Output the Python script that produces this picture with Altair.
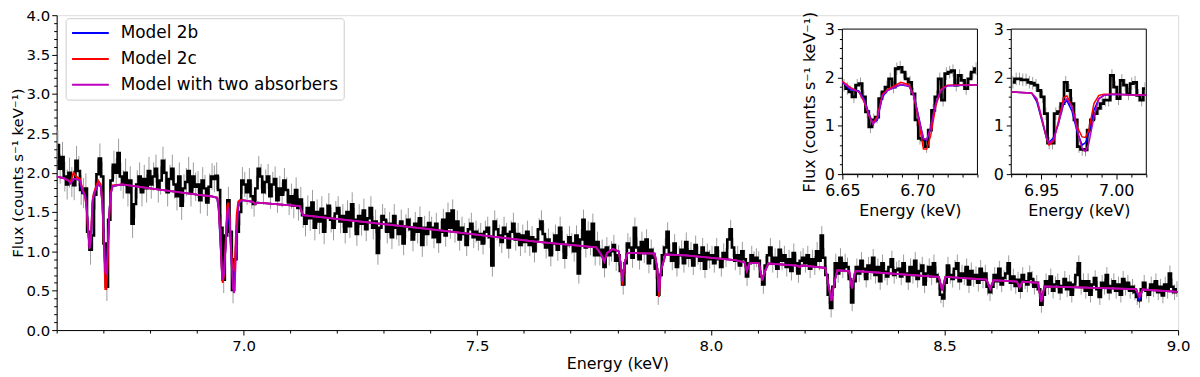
import altair as alt
import pandas as pd

FONT = "DejaVu Sans"

# ---------------- main spectrum: 0.005 keV bins starting at 6.6 keV ----------------
E_START = 6.6
E_BIN = 0.005
FLUX_A = [  # 6.6 - 7.0 keV
    2.35, 2.05, 2.20, 1.95, 1.85, 2.00, 1.88, 1.84, 2.15, 2.02, 1.78, 1.74, 1.80, 1.25, 1.02, 1.20, 1.72, 1.98, 2.18, 1.95,
    1.10, 0.55, 1.40, 1.90, 2.10, 2.00, 2.25, 1.95, 1.85, 2.00, 1.75, 1.90, 1.35, 1.60, 1.85, 1.95, 1.75, 1.92, 1.80, 2.02,
    1.85, 1.95, 2.05, 1.80, 1.90, 2.15, 2.00, 1.75, 1.92, 2.05, 1.85, 1.70, 1.95, 1.58, 1.80, 1.88, 2.02, 1.75, 1.95, 1.82,
    1.85, 1.65, 1.90, 1.80, 1.62, 1.82, 1.95, 1.92, 1.96, 1.78, 1.30, 0.64, 1.20, 1.65, 1.25, 0.51, 0.90, 1.25, 1.50, 1.90,
]
FLUX_B = [  # 7.0 - 7.4 keV
    1.85, 1.75, 1.90, 1.70, 1.60, 1.80, 2.05, 1.95, 1.75, 1.88, 1.95, 1.70, 1.85, 1.92, 1.65, 1.80, 1.72, 1.90, 1.78, 1.62,
    1.70, 1.58, 1.78, 1.55, 1.66, 1.46, 1.35, 1.55, 1.42, 1.62, 1.30, 1.50, 1.38, 1.54, 1.25, 1.45, 1.58, 1.40, 1.30, 1.48,
    1.55, 1.38, 1.45, 1.25, 1.50, 1.32, 1.60, 1.40, 1.22, 1.45, 1.35, 1.52, 1.28, 1.42, 1.55, 1.30, 1.38, 0.98, 1.30, 1.45,
    1.40, 1.25, 1.35, 1.18, 1.45, 1.30, 1.22, 1.38, 1.10, 1.32, 1.40, 1.28, 1.15, 1.35, 1.25, 1.42, 1.08, 1.30, 1.22, 1.36,
]
FLUX_C = [  # 7.4 - 7.8 keV
    1.30, 1.18, 1.35, 1.12, 1.25, 1.40, 1.20, 1.48, 1.30, 1.52, 1.25, 1.38, 1.15, 1.30, 1.22, 1.08, 1.28, 1.35, 1.18, 1.25,
    1.15, 1.22, 1.10, 1.25, 1.30, 1.18, 0.82, 1.38, 1.28, 1.20, 1.12, 1.30, 1.22, 1.05, 1.25, 1.35, 1.15, 1.22, 1.08, 1.20,
    1.12, 1.25, 1.08, 1.18, 1.00, 1.15, 1.28, 1.38, 1.22, 1.05, 1.15, 0.95, 1.10, 1.20, 1.02, 1.30, 1.12, 0.92, 1.08, 1.18,
    1.10, 1.00, 1.20, 0.72, 1.15, 1.40, 1.05, 1.25, 1.08, 1.35, 0.95, 1.12, 0.95, 1.02, 0.80, 1.05, 0.95, 1.00, 1.08, 0.88,
]
FLUX_D = [  # 7.8 - 8.2 keV
    0.95, 0.75, 0.58, 0.85, 1.10, 1.05, 0.92, 1.30, 1.05, 0.90, 1.12, 0.98, 1.15, 0.85, 1.02, 0.92, 0.78, 0.45, 0.70, 0.95,
    1.05, 1.25, 0.98, 0.88, 1.10, 0.80, 0.95, 1.02, 0.85, 1.12, 0.92, 1.00, 0.82, 1.08, 0.95, 0.88, 1.05, 0.78, 0.98, 0.90,
    0.95, 0.85, 1.05, 0.90, 0.80, 0.98, 0.92, 1.15, 1.28, 1.05, 0.88, 0.95, 0.82, 1.00, 0.90, 0.68, 0.85, 0.95, 0.88, 0.92,
    0.88, 0.68, 0.58, 0.82, 0.95, 1.05, 0.85, 0.92, 0.78, 1.02, 0.88, 0.95, 0.80, 0.90, 0.75, 0.98, 0.85, 0.72, 0.88, 0.92,
]
FLUX_E = [  # 8.2 - 8.6 keV
    0.85, 0.95, 0.78, 0.90, 0.82, 1.00, 0.88, 1.20, 0.92, 0.70, 0.45, 0.28, 0.55, 0.85, 0.72, 0.92, 0.78, 0.85, 0.80, 0.65,
    0.35, 0.62, 0.80, 0.72, 0.88, 0.78, 0.65, 0.82, 0.75, 0.92, 0.70, 0.80, 0.62, 0.85, 0.74, 0.68, 0.80, 0.90, 0.70, 0.76,
    0.78, 0.68, 0.85, 0.72, 0.62, 0.80, 0.70, 0.88, 0.65, 0.75, 0.82, 0.58, 0.72, 0.80, 0.68, 0.85, 0.70, 0.62, 0.45, 0.40,
    0.60, 0.82, 0.70, 0.65, 0.78, 0.85, 0.62, 0.72, 0.68, 0.80, 0.58, 0.75, 0.66, 0.70, 0.60, 0.78, 0.64, 0.72, 0.55, 0.48,
]
FLUX_F = [  # 8.6 - 9.0 keV
    0.55, 0.70, 0.62, 0.78, 0.58, 0.66, 0.72, 0.85, 0.60, 0.68, 0.56, 0.64, 0.50, 0.70, 0.62, 0.58, 0.72, 0.65, 0.55, 0.60,
    0.52, 0.32, 0.45, 0.62, 0.55, 0.68, 0.50, 0.58, 0.62, 0.48, 0.56, 0.65, 0.52, 0.60, 0.45, 0.58, 0.70, 0.85, 0.55, 0.62,
    0.50, 0.62, 0.45, 0.58, 0.66, 0.52, 0.42, 0.60, 0.55, 0.70, 0.48, 0.56, 0.62, 0.50, 0.58, 0.45, 0.65, 0.54, 0.60, 0.50,
    0.55, 0.48, 0.42, 0.38, 0.52, 0.60, 0.50, 0.45, 0.58, 0.52, 0.62, 0.48, 0.55, 0.44, 0.58, 0.50, 0.72, 0.55, 0.48, 0.52,
]
# 1-sigma error per 0.1 keV stretch (20 bins each)
ERR_PER_100EV = [0.19, 0.18, 0.18, 0.17, 0.16, 0.16, 0.15, 0.15, 0.14, 0.14, 0.14, 0.13,
                 0.13, 0.12, 0.12, 0.12, 0.12, 0.11, 0.11, 0.11, 0.10, 0.10, 0.10, 0.10]

# ---------------- inset spectra (finer bins) ----------------
IN1_DOMAIN = [6.65, 6.74]
IN2_DOMAIN = [6.93, 7.02]
IN_YDOMAIN = [0, 3]
IN_BIN = 0.0022
IN1_FLUX = [1.84, 1.77, 1.70, 1.60, 1.84, 1.87, 1.60, 1.29, 0.98, 1.12, 1.18, 1.56, 1.70, 1.80,
            1.97, 1.80, 2.18, 2.21, 2.11, 1.97, 1.90, 1.66, 1.12, 0.74, 0.71, 0.57, 0.91, 1.32,
            1.60, 1.97, 1.53, 2.08, 2.11, 2.14, 1.84, 2.04, 1.94, 1.77, 1.97, 2.11, 2.18]
IN2_FLUX = [1.90, 1.97, 1.97, 1.95, 1.95, 1.90, 1.88, 1.84, 1.73, 1.60, 1.25, 0.64, 0.64, 1.25,
            1.29, 1.46, 1.90, 1.73, 1.46, 1.12, 0.57, 0.51, 0.50, 0.91, 1.12, 1.25, 1.36, 1.46,
            1.53, 1.53, 2.04, 1.80, 1.56, 1.94, 1.84, 1.66, 1.87, 1.90, 1.63, 1.53, 1.77]
IN_ERR = 0.13

# ---------------- models ----------------
MODEL_NAMES = ["Model 2b", "Model 2c", "Model with two absorbers"]
MODEL_COLORS = ["#0000ff", "#ff0000", "#bf00bf"]
MODEL_E = [6.600, 6.615, 6.625, 6.630, 6.636, 6.642, 6.650, 6.655, 6.661, 6.6644, 6.6678, 6.6704, 6.6733,
           6.6767, 6.680, 6.6889, 6.6944, 6.6978, 6.7011, 6.704, 6.7062, 6.7089, 6.7122, 6.7156, 6.720,
           6.740, 6.800, 6.900,
           6.930, 6.9436, 6.947, 6.9503, 6.9537, 6.9552, 6.9582, 6.9615, 6.9649, 6.9671, 6.9705, 6.9739,
           6.9772, 6.9795, 6.9817, 6.9851, 6.9884, 6.9918, 6.9974,
           7.020, 7.025, 7.030, 7.120, 7.127, 7.430, 7.630,
           7.755, 7.766, 7.772, 7.778, 7.790, 7.803, 7.807, 7.811, 7.815, 7.822, 7.880, 7.885, 7.889, 7.893, 7.903,
           7.946, 8.052, 8.072, 8.077, 8.083, 8.103, 8.107, 8.110, 8.114, 8.123,
           8.185, 8.190, 8.195, 8.245, 8.251, 8.258, 8.264, 8.271, 8.296, 8.302, 8.308, 8.311,
           8.477, 8.488, 8.495, 8.502, 8.590, 8.598, 8.605, 8.655, 8.661, 8.667, 8.700, 8.707, 8.714,
           8.750, 8.910, 8.917, 8.924, 9.000]
MODEL_TWO = [1.95, 1.93, 1.90, 1.86, 1.92, 1.92, 1.90, 1.78, 1.70, 1.53, 1.22, 1.03, 1.15,
             1.63, 1.73, 1.86, 1.82, 1.60, 1.12, 0.74, 0.71, 0.98, 1.46, 1.73, 1.83,
             1.85, 1.80, 1.72,
             1.70, 1.68, 1.56, 1.18, 0.74, 0.64, 0.71, 1.05, 1.49, 1.56, 1.39, 0.91,
             0.53, 0.47, 0.64, 1.18, 1.56, 1.63, 1.65,
             1.63, 1.60, 1.62, 1.575, 1.46, 1.26, 1.12,
             1.05, 0.95, 0.87, 0.98, 1.03, 1.00, 0.85, 0.62, 0.85, 0.98, 0.97, 0.80, 0.48, 0.75, 0.96,
             0.95, 0.89, 0.86, 0.75, 0.85, 0.85, 0.72, 0.63, 0.72, 0.845,
             0.82, 0.80, 0.82, 0.79, 0.60, 0.37, 0.60, 0.76, 0.75, 0.53, 0.72, 0.75,
             0.68, 0.675, 0.505, 0.675, 0.64, 0.525, 0.635, 0.615, 0.54, 0.615, 0.60, 0.36, 0.555,
             0.55, 0.52, 0.42, 0.515, 0.484]
MODEL_2B_DIFF = {6.630: 1.87, 6.655: 1.75, 6.661: 1.72, 6.6644: 1.55, 6.6678: 1.25, 6.6704: 1.05,
                 6.6733: 1.12, 6.6767: 1.60, 6.6889: 1.85, 6.6978: 1.62, 6.7011: 1.15, 6.704: 0.72,
                 6.7062: 0.70, 6.7089: 0.95, 6.7122: 1.45, 6.947: 1.50, 6.9503: 1.12, 6.9537: 0.72,
                 6.9552: 0.66, 6.9582: 0.75, 6.9649: 1.45, 6.9671: 1.52, 6.9705: 1.30, 6.9739: 0.88,
                 6.9772: 0.60, 6.9795: 0.65, 6.9817: 0.84, 6.9851: 1.32, 8.917: 0.38}
MODEL_2C_DIFF = {6.630: 1.88, 6.636: 2.00, 6.642: 1.95, 6.650: 1.92, 6.655: 1.80, 6.6644: 1.50,
                 6.6678: 1.20, 6.6704: 1.05, 6.6733: 1.20, 6.6767: 1.65, 6.680: 1.75, 6.6889: 1.90,
                 6.6944: 1.85, 6.7011: 1.05, 6.704: 0.52, 6.7062: 0.52, 6.7089: 0.80, 6.7122: 1.40,
                 6.7156: 1.75, 6.720: 1.84, 6.947: 1.55, 6.9503: 1.15, 6.9537: 0.72, 6.9552: 0.60,
                 6.9582: 0.68, 6.9615: 1.10, 6.9649: 1.58, 6.9671: 1.62, 6.9705: 1.40, 6.9739: 0.98,
                 6.9772: 0.77, 6.9795: 0.76, 6.9817: 0.91, 6.9851: 1.46, 6.9884: 1.63, 6.9918: 1.65,
                 7.811: 0.57, 7.889: 0.42}

# ---------------- ticks ----------------
MAIN_X_TICKS = [round(6.6 + 0.1 * i, 2) for i in range(25)]
MAIN_Y_TICKS = [round(0.1 * i, 2) for i in range(41)]
IN1_X_TICKS = [round(6.65 + 0.01 * i, 3) for i in range(10)]
IN2_X_TICKS = [round(6.93 + 0.01 * i, 3) for i in range(10)]
IN_Y_TICKS = [round(0.2 * i, 2) for i in range(16)]

# ---------------- layout ----------------
W, H = 1129, 317
IN1_PX = [791, 927]
IN2_PX = [961, 1097]
IN_PY = [160, 14]

# ---------------- tables ----------------
flux = FLUX_A + FLUX_B + FLUX_C + FLUX_D + FLUX_E + FLUX_F
energies = [round(E_START + (i + 0.5) * E_BIN, 5) for i in range(len(flux))]
errs = [ERR_PER_100EV[min(i // 20, len(ERR_PER_100EV) - 1)] for i in range(len(flux))]
df_main = pd.DataFrame({"E": energies, "F": flux})
df_main["lo"] = df_main["F"] - errs
df_main["hi"] = df_main["F"] + errs


def inset_df(start, vals):
    e = [round(start + (i + 0.5) * IN_BIN, 5) for i in range(len(vals))]
    d = pd.DataFrame({"E": e, "F": vals})
    d["lo"] = d["F"] - IN_ERR
    d["hi"] = d["F"] + IN_ERR
    return d


df_in1 = inset_df(IN1_DOMAIN[0], IN1_FLUX)
df_in2 = inset_df(IN2_DOMAIN[0], IN2_FLUX)

rows = []
for name, diff in zip(MODEL_NAMES, [MODEL_2B_DIFF, MODEL_2C_DIFF, None]):
    for e, v in zip(MODEL_E, MODEL_TWO):
        val = diff.get(e, v) if diff else v
        rows.append({"model": name, "E": e, "F": val})
df_mod = pd.DataFrame(rows)

# ---------------- axes ----------------
T_HALF = "abs(datum.value*2 - round(datum.value*2)) < 0.001"
T_20 = "abs(datum.value*20 - round(datum.value*20)) < 0.001"
T_INT = "abs(datum.value - round(datum.value)) < 0.001"


def make_axis(orient, values, test, fmt, title, lsize, tsize, offset=None, lpad=4, tpad=4):
    kw = dict(
        orient=orient, values=values, title=title,
        labelExpr=f"({test}) ? format(datum.value, '{fmt}') : ''",
        tickSize={"condition": {"test": test, "value": 5}, "value": 3},
        labelFontSize=lsize, titleFontSize=tsize, labelPadding=lpad, titlePadding=tpad,
        grid=False, labelFlush=False, labelOverlap=False,
        domainColor="black", tickColor="black", labelColor="black", titleColor="black",
        labelFont=FONT, titleFont=FONT, titleFontWeight="normal", tickWidth=1, domainWidth=1,
    )
    if offset is not None:
        kw["offset"] = offset
    return alt.Axis(**kw)


YTITLE = "Flux (counts s\u207b\u00b9 keV\u207b\u00b9)"
ax_mx = make_axis("bottom", MAIN_X_TICKS, T_HALF, ".1f", "Energy (keV)", 15, 16, lpad=4, tpad=2)
ax_my = make_axis("left", MAIN_Y_TICKS, T_HALF, ".1f", YTITLE, 15, 15, lpad=2, tpad=1)
ax_i1x = make_axis("bottom", IN1_X_TICKS, T_20, ".2f", "Energy (keV)", 16, 16, offset=-(H - IN_PY[0]))
ax_i1y = make_axis("left", IN_Y_TICKS, T_INT, ".0f", YTITLE, 16, 16, offset=-IN1_PX[0], lpad=3, tpad=7)
ax_i2x = make_axis("bottom", IN2_X_TICKS, T_20, ".2f", "Energy (keV)", 16, 16, offset=-(H - IN_PY[0]))
ax_i2y = make_axis("left", IN_Y_TICKS, T_INT, ".0f", None, 16, 16, offset=-IN2_PX[0], lpad=3)

cscale = alt.Scale(domain=MODEL_NAMES, range=MODEL_COLORS)
leg = alt.Legend(orient="none", legendX=9, legendY=3, symbolType="stroke", symbolSize=1369,
                 symbolStrokeWidth=2, clipHeight=19, rowPadding=7, labelFontSize=17, labelFont=FONT,
                 labelColor="black", labelOffset=11, labelLimit=500, padding=5.5, strokeColor="#cccccc",
                 cornerRadius=3, fillColor="white")


def panel(df_data, xs, ys, axx, axy, dmodel, data_w, model_w, frame=None):
    layers = []
    if frame is not None:
        layers.append(alt.Chart(frame).mark_rect(fill="white", stroke="black", strokeWidth=1).encode(
            x=alt.X("x0:Q", scale=xs, axis=axx), x2="x1:Q",
            y=alt.Y("y0:Q", scale=ys, axis=axy), y2="y1:Q"))
    layers.append(alt.Chart(df_data).mark_rule(color="#9c9c9c", strokeWidth=1, clip=True).encode(
        x=alt.X("E:Q", scale=xs, axis=axx),
        y=alt.Y("lo:Q", scale=ys, axis=axy), y2="hi:Q"))
    layers.append(alt.Chart(df_data).mark_line(interpolate="step", color="black",
                                               strokeWidth=data_w, clip=True).encode(
        x=alt.X("E:Q", scale=xs, axis=axx),
        y=alt.Y("F:Q", scale=ys, axis=axy)))
    for name in MODEL_NAMES:
        layers.append(alt.Chart(dmodel[dmodel["model"] == name]).mark_line(
            strokeWidth=model_w, clip=True).encode(
            x=alt.X("E:Q", scale=xs, axis=axx),
            y=alt.Y("F:Q", scale=ys, axis=axy),
            color=alt.Color("model:N", scale=cscale, legend=leg, title=None)))
    return alt.layer(*layers)


xs_m = alt.Scale(domain=[6.6, 9.0], nice=False, zero=False)
ys_m = alt.Scale(domain=[0, 4.0], nice=False, zero=False)
main = panel(df_main, xs_m, ys_m, ax_mx, ax_my, df_mod, 2.5, 1.8)


def inset(domain, px, df_d, axx, axy):
    xs = alt.Scale(domain=domain, range=px, nice=False, zero=False)
    ys = alt.Scale(domain=IN_YDOMAIN, range=IN_PY, nice=False, zero=False)
    dm = df_mod[(df_mod["E"] >= domain[0] - 1e-9) & (df_mod["E"] <= domain[1] + 1e-9)]
    dd = df_d[(df_d["E"] >= domain[0]) & (df_d["E"] <= domain[1])]
    frame = pd.DataFrame({"x0": [domain[0]], "x1": [domain[1]],
                          "y0": [IN_YDOMAIN[0]], "y1": [IN_YDOMAIN[1]]})
    return panel(dd, xs, ys, axx, axy, dm, 2.8, 1.5, frame=frame)


in1 = inset(IN1_DOMAIN, IN1_PX, df_in1, ax_i1x, ax_i1y)
in2 = inset(IN2_DOMAIN, IN2_PX, df_in2, ax_i2x, ax_i2y)

chart = (
    alt.layer(main, in1, in2)
    .resolve_scale(x="independent", y="independent")
    .properties(width=W, height=H,
                autosize=alt.AutoSizeParams(type="none"),
                padding={"left": 49, "top": 6, "right": 14, "bottom": 46})
    .configure_view(stroke="black", strokeWidth=1)
    .configure(font=FONT)
)

chart.save("out.html", embed_options={"renderer": "svg", "actions": False})
